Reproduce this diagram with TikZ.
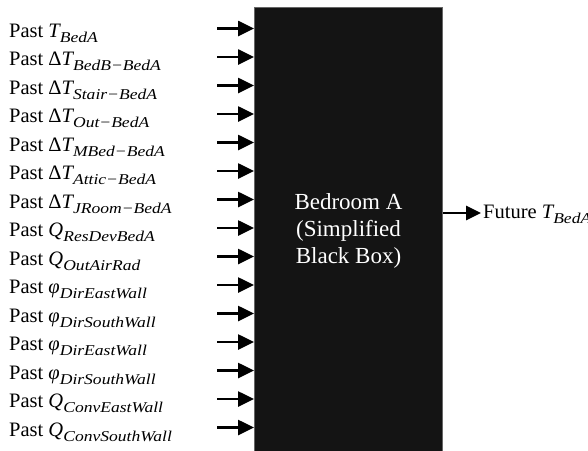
\documentclass[tikz,border=0pt]{standalone}
\usepackage{fontspec}
\setmainfont{Liberation Serif}
\newfontfamily\mitfont{Liberation Serif}[UprightFont=* Italic]
\newfontfamily\subfont{Liberation Serif}[UprightFont=* Italic, FakeStretch=1.17]
\usetikzlibrary{arrows.meta}
\newcommand\mv[2]{{\mitfont #1}\raisebox{-5pt}{\fontsize{15}{15}\subfont #2}}
\begin{document}
\begin{tikzpicture}[x=1pt,y=-1pt,
  lbl/.style={anchor=base west, inner sep=0pt, font=\fontsize{20.5}{24}\selectfont},
  inarrow/.style={line width=2.6pt, -{Triangle[length=16pt,width=15pt]}},
  bbox/.style={fill=black!92, draw=black!60, line width=1pt, anchor=north west,
    minimum width=188pt, minimum height=446pt, inner sep=0pt, text=white,
    align=center, font=\fontsize{23}{27}\selectfont}]
\useasboundingbox (0,0) rectangle (588,450);
\begin{scope}
\clip (0,0) rectangle (588,450);
\node[bbox] (box) at (254,7) {Bedroom A\\(Simplified\\Black Box)};
\end{scope}
\foreach \i/\t in {0/{\mv{T}{BedA}},
  1/{Δ\mv{T}{BedB−BedA}},
  2/{Δ\mv{T}{Stair−BedA}},
  3/{Δ\mv{T}{Out−BedA}},
  4/{Δ\mv{T}{MBed−BedA}},
  5/{Δ\mv{T}{Attic−BedA}},
  6/{Δ\mv{T}{JRoom−BedA}},
  7/{\mv{Q}{ResDevBedA}},
  8/{\mv{Q}{OutAirRad}},
  9/{\mv{φ}{DirEastWall}},
  10/{\mv{φ}{DirSouthWall}},
  11/{\mv{φ}{DirEastWall}},
  12/{\mv{φ}{DirSouthWall}},
  13/{\mv{Q}{ConvEastWall}},
  14/{\mv{Q}{ConvSouthWall}}}{
  \node[lbl] (l\i) at (9,{37+28.5*\i}) {Past \t};
  \coordinate (s\i) at (217,{28.5+28.5*\i});
  \draw[inarrow] (s\i) -- (s\i -| box.west);
}
\coordinate (o) at (481,213);
\draw[line width=2.6pt, -{Triangle[length=15pt,width=14pt]}] (box.east |- o) -- (o);
\node[lbl] (fut) at (483,218.5) {Future \mv{T}{BedA}};
\end{tikzpicture}
\end{document}
